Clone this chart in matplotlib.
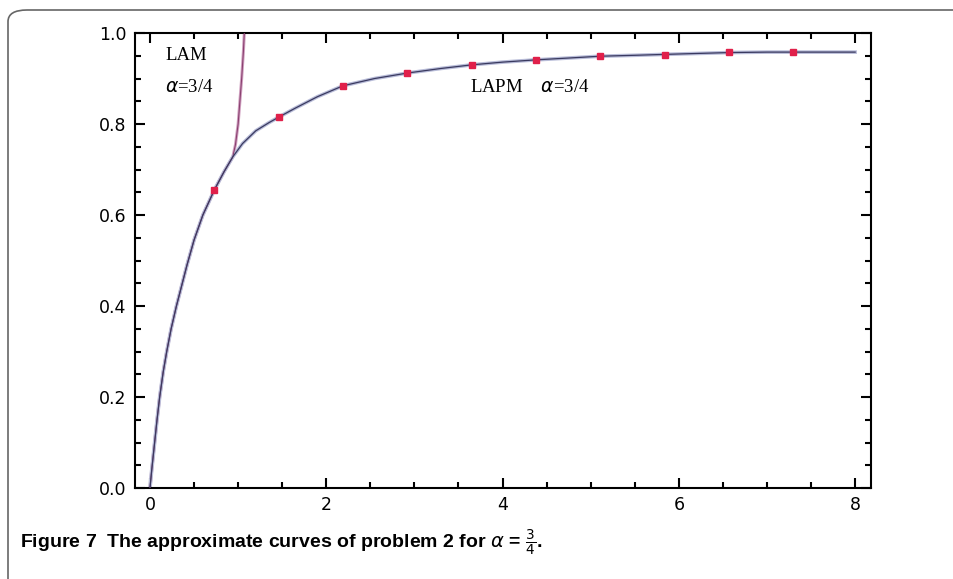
import numpy as np
import matplotlib.pyplot as plt
from matplotlib.patches import FancyBboxPatch
from matplotlib.ticker import MultipleLocator

# curves
lapm_x = [0.0, 0.02, 0.05, 0.08, 0.11, 0.15, 0.19, 0.24, 0.30, 0.36, 0.42, 0.50, 0.60,
          0.73, 0.84, 0.94, 1.05, 1.20, 1.35, 1.46, 1.65, 1.90, 2.19, 2.55, 2.92, 3.30,
          3.65, 4.00, 4.38, 4.75, 5.11, 5.50, 5.84, 6.20, 6.57, 7.00, 7.30, 7.70, 8.0]
lapm_y = [0.0, 0.04, 0.095, 0.15, 0.20, 0.255, 0.30, 0.35, 0.40, 0.445, 0.49, 0.545, 0.60,
          0.655, 0.695, 0.728, 0.757, 0.785, 0.803, 0.815, 0.835, 0.86, 0.884, 0.900, 0.912,
          0.922, 0.930, 0.936, 0.941, 0.945, 0.949, 0.951, 0.953, 0.955, 0.957, 0.958,
          0.958, 0.958, 0.958]

lam_x = [0.0, 0.02, 0.05, 0.08, 0.11, 0.15, 0.19, 0.24, 0.30, 0.36, 0.42, 0.50, 0.60,
         0.73, 0.84, 0.94, 0.97, 1.00, 1.02, 1.04, 1.06, 1.07, 1.08]
lam_y = [0.0, 0.04, 0.095, 0.15, 0.20, 0.255, 0.30, 0.35, 0.40, 0.445, 0.49, 0.545, 0.60,
         0.655, 0.695, 0.728, 0.755, 0.80, 0.85, 0.90, 0.96, 1.0, 1.05]

# red points
pts_x = [0.73, 1.46, 2.19, 2.92, 3.65, 4.38, 5.11, 5.84, 6.57, 7.30]
pts_y = [0.655, 0.815, 0.884, 0.912, 0.930, 0.941, 0.949, 0.952, 0.958, 0.958]

fig = plt.figure(figsize=(9.54, 5.79), dpi=100)

# rounded frame around the figure
frame = FancyBboxPatch((8 / 954, -0.05), 1.2, (579 - 10) / 579 + 0.05,
                       boxstyle="round,pad=0,rounding_size=0.02",
                       transform=fig.transFigure, fill=False,
                       edgecolor="#666666", linewidth=1.2, clip_on=False)
fig.patches.append(frame)

ax = fig.add_axes([135 / 954, 91 / 579, 736 / 954, 455 / 579])

ax.plot(lam_x, lam_y, color="#d0a0c0", lw=2.2, zorder=2)
ax.plot(lam_x, lam_y, color="#8a4070", lw=0.8, zorder=3)
ax.plot(lapm_x, lapm_y, color="#b8bcd8", lw=2.6, zorder=2)
ax.plot(lapm_x, lapm_y, color="#3a3a60", lw=0.9, zorder=3)
ax.plot(pts_x, pts_y, ls="none", marker="s", ms=4.5, color="#e0204a", zorder=4)

ax.set_xlim(-0.17, 8.18)
ax.set_ylim(0, 1.0)
ax.xaxis.set_major_locator(MultipleLocator(2))
ax.xaxis.set_minor_locator(MultipleLocator(0.5))
ax.yaxis.set_minor_locator(MultipleLocator(0.05))
ax.set_yticks([0, 0.2, 0.4, 0.6, 0.8, 1.0])
ax.set_yticklabels(["0.0", "0.2", "0.4", "0.6", "0.8", "1.0"])
ax.tick_params(which="both", direction="in", top=True, right=True, width=1.5, labelsize=12.5)
ax.tick_params(which="major", length=7, pad=6)
ax.tick_params(which="minor", length=4)
for s in ax.spines.values():
    s.set_linewidth(1.5)

ax.text(0.17, 0.95, "LAM", family="Liberation Serif", fontsize=13.5, va="center")
ax.text(0.17, 0.88, r"$\alpha$=3/4", family="Liberation Serif", fontsize=13.5, va="center")
ax.text(3.63, 0.88, r"LAPM    $\alpha$=3/4", family="Liberation Serif", fontsize=13.5, va="center")

fig.text(20 / 954, 1 - 543 / 579, r"Figure 7  The approximate curves of problem 2 for $\alpha$ = $\frac{3}{4}$.",
         fontsize=14, fontweight="bold", family="Liberation Sans", va="center")

fig.savefig("out.png", dpi=100)
